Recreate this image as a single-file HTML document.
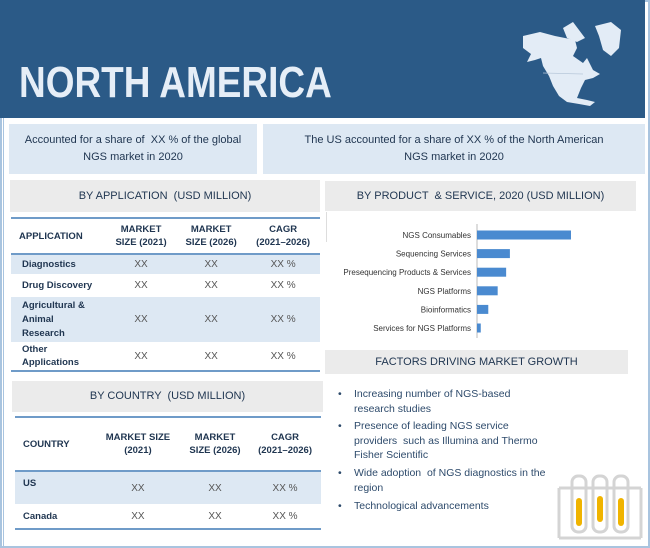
<!DOCTYPE html>
<html><head><meta charset="utf-8"><style>
*{margin:0;padding:0;box-sizing:border-box}
body{width:650px;height:548px;background:#fff;font-family:"Liberation Sans Narrow","Liberation Sans",sans-serif;position:relative;overflow:hidden;color:#1f3550}
.abs{position:absolute}
.gray{background:#ebebeb;text-align:center;font-size:11px;color:#1f3550}
.blue{background:#dde8f3;text-align:center;font-size:11px;color:#1f3550;line-height:17px}
table{border-collapse:collapse;position:absolute;font-size:10px}
td{padding:0 4px;text-align:center;color:#555}
td.l{text-align:left;font-weight:bold;color:#1f3550;font-size:9.5px}
th{font-weight:bold;color:#1f3550;font-size:9.5px;line-height:13px}
tr.s{background:#dde8f3}
.bul{position:absolute;left:338px;font-family:"Liberation Sans",sans-serif;font-size:10.5px;color:#2d4a6b;line-height:14.5px}
.bul span{position:absolute;left:16px;width:200px}
</style></head><body>
<div class="abs" style="left:0;top:0;width:650px;height:548px;border:2px solid #a9c4df"></div>
<div class="abs" style="left:0;top:0;width:645px;height:118px;background:#2b5a87"></div>
<div class="abs" style="left:19px;top:58px;font-size:44px;font-weight:bold;color:#e6eef7;line-height:50px;transform:scaleX(0.84);transform-origin:0 0;white-space:nowrap">NORTH AMERICA</div>
<svg class="abs" style="left:515px;top:18px" width="125" height="90" viewBox="0 0 125 90">
<path d="M8 18 L25 14 L40 18 L60 22 L62 30 L58 38 L68 45 L72 40 L78 52 L85 56 L78 60 L70 62 L66 70 L62 80 L72 82 L80 84 L75 88 L64 86 L52 84 L44 78 L38 68 L34 58 L28 48 L26 40 L20 42 L12 44 L16 36 L8 30 Z" fill="#e3ecf6"/>
<path d="M48 10 L58 4 L64 12 L70 20 L62 24 L52 20 Z" fill="#e3ecf6"/>
<path d="M80 8 L96 4 L106 12 L104 30 L96 38 L88 32 L84 18 Z" fill="#e3ecf6"/>
<path d="M28 55 L68 56" stroke="#b8c8da" stroke-width="0.8" fill="none"/>
</svg>
<div class="abs blue" style="left:9px;top:124px;width:248px;height:50px;padding-top:8px">Accounted for a share of &nbsp;XX % of the global<br>NGS market in 2020</div>
<div class="abs blue" style="left:263px;top:124px;width:382px;height:50px;padding-top:8px">The US accounted for a share of XX % of the North American<br>NGS market in 2020</div>
<div class="abs" style="left:3px;top:118px;width:1px;height:430px;background:#a9c4df"></div>
<div class="abs gray" style="left:10px;top:180px;width:310px;height:32px;line-height:32px">BY APPLICATION &nbsp;(USD MILLION)</div>
<table style="left:11px;top:217px;width:309px;border-top:2px solid #6f9bc8;border-bottom:2px solid #6f9bc8">
<tr style="height:36px;border-bottom:2px solid #6f9bc8"><th style="text-align:left;padding-left:8px;width:95px">APPLICATION</th><th>MARKET<br>SIZE (2021)</th><th>MARKET<br>SIZE (2026)</th><th>CAGR<br>(2021–2026)</th></tr>
<tr class="s" style="height:20px"><td class="l" style="padding-left:11px">Diagnostics</td><td>XX</td><td>XX</td><td>XX %</td></tr>
<tr style="height:23px"><td class="l" style="padding-left:11px">Drug Discovery</td><td>XX</td><td>XX</td><td>XX %</td></tr>
<tr class="s" style="height:45px"><td class="l" style="padding-left:11px;line-height:14px">Agricultural &amp;<br>Animal<br>Research</td><td>XX</td><td>XX</td><td>XX %</td></tr>
<tr style="height:29px"><td class="l" style="padding-left:11px;line-height:13px">Other<br>Applications</td><td>XX</td><td>XX</td><td>XX %</td></tr>
</table>
<div class="abs gray" style="left:12px;top:381px;width:311px;height:31px;line-height:31px">BY COUNTRY &nbsp;(USD MILLION)</div>
<table style="left:15px;top:416px;width:306px;border-top:2px solid #6f9bc8;border-bottom:2px solid #6f9bc8">
<tr style="height:54px;border-bottom:2px solid #6f9bc8"><th style="text-align:left;padding-left:8px;width:80px">COUNTRY</th><th>MARKET SIZE<br>(2021)</th><th>MARKET<br>SIZE (2026)</th><th>CAGR<br>(2021–2026)</th></tr>
<tr class="s" style="height:33px"><td class="l" style="padding-left:8px;vertical-align:top;padding-top:6px">US</td><td>XX</td><td>XX</td><td>XX %</td></tr>
<tr style="height:25px"><td class="l" style="padding-left:8px">Canada</td><td>XX</td><td>XX</td><td>XX %</td></tr>
</table>
<div class="abs" style="left:326px;top:212px;width:1px;height:30px;background:#ddd"></div>
<div class="abs gray" style="left:325px;top:181px;width:311px;height:30px;line-height:30px">BY PRODUCT &nbsp;&amp; SERVICE, 2020 (USD MILLION)</div>
<svg class="abs" id="chart" style="left:330px;top:220px" width="310" height="125"></svg>
<div class="abs gray" style="left:325px;top:350px;width:303px;height:24px;line-height:24px">FACTORS DRIVING MARKET GROWTH</div>
<div class="bul" style="top:387px">•<span>Increasing number of NGS-based research studies</span></div>
<div class="bul" style="top:419px">•<span>Presence of leading NGS service providers &nbsp;such as Illumina and Thermo Fisher Scientific</span></div>
<div class="bul" style="top:466px">•<span>Wide adoption &nbsp;of NGS diagnostics in the region</span></div>
<div class="bul" style="top:499px">•<span>Technological advancements</span></div>
<svg class="abs" style="left:555px;top:468px" width="90" height="76" viewBox="0 0 90 76">
<g stroke="#d4d4d4" stroke-width="3" fill="none">
<line x1="4" y1="20" x2="86" y2="20"/><line x1="4" y1="70" x2="86" y2="70"/>
<line x1="4" y1="20" x2="4" y2="70"/><line x1="86" y1="20" x2="86" y2="70"/>
<rect x="17" y="8" width="14" height="56" rx="6"/><rect x="38" y="8" width="14" height="56" rx="6"/><rect x="59" y="8" width="14" height="56" rx="6"/>
</g>
<g fill="#f0b400"><rect x="21" y="30" width="6" height="28" rx="3"/><rect x="42" y="28" width="6" height="26" rx="3"/><rect x="63" y="30" width="6" height="28" rx="3"/></g>
</svg>
<script>
const categories=["NGS Consumables","Sequencing Services","Presequencing Products & Services","NGS Platforms","Bioinformatics","Services for NGS Platforms"];
const values=[100,35,31,22,12,4];
const svg=document.getElementById('chart');
const NS='http://www.w3.org/2000/svg';
const x0=147,maxW=94,top0=6,step=18.6;
const xs=v=>v/100*maxW;
const ax=document.createElementNS(NS,'line');


ax.setAttribute('x1',x0);ax.setAttribute('x2',x0);ax.setAttribute('y1',4);ax.setAttribute('y2',118);ax.setAttribute('stroke','#bbb');
svg.appendChild(ax);
categories.forEach((c,i)=>{
  const cy=top0+step*i+9;
  const r=document.createElementNS(NS,'rect');
  
  
  r.setAttribute('x',x0);r.setAttribute('y',cy-4.5);r.setAttribute('width',xs(values[i]));r.setAttribute('height',9);r.setAttribute('fill','#4a8ad0');
  svg.appendChild(r);
  const t=document.createElementNS(NS,'text');
  
  
  t.setAttribute('x',x0-6);t.setAttribute('y',cy+3);t.setAttribute('text-anchor','end');t.setAttribute('font-size','8');t.setAttribute('fill','#333');
  t.setAttribute('font-family','Liberation Sans Narrow, Liberation Sans, sans-serif');
  t.textContent=c;svg.appendChild(t);
});
</script>
</body></html>
